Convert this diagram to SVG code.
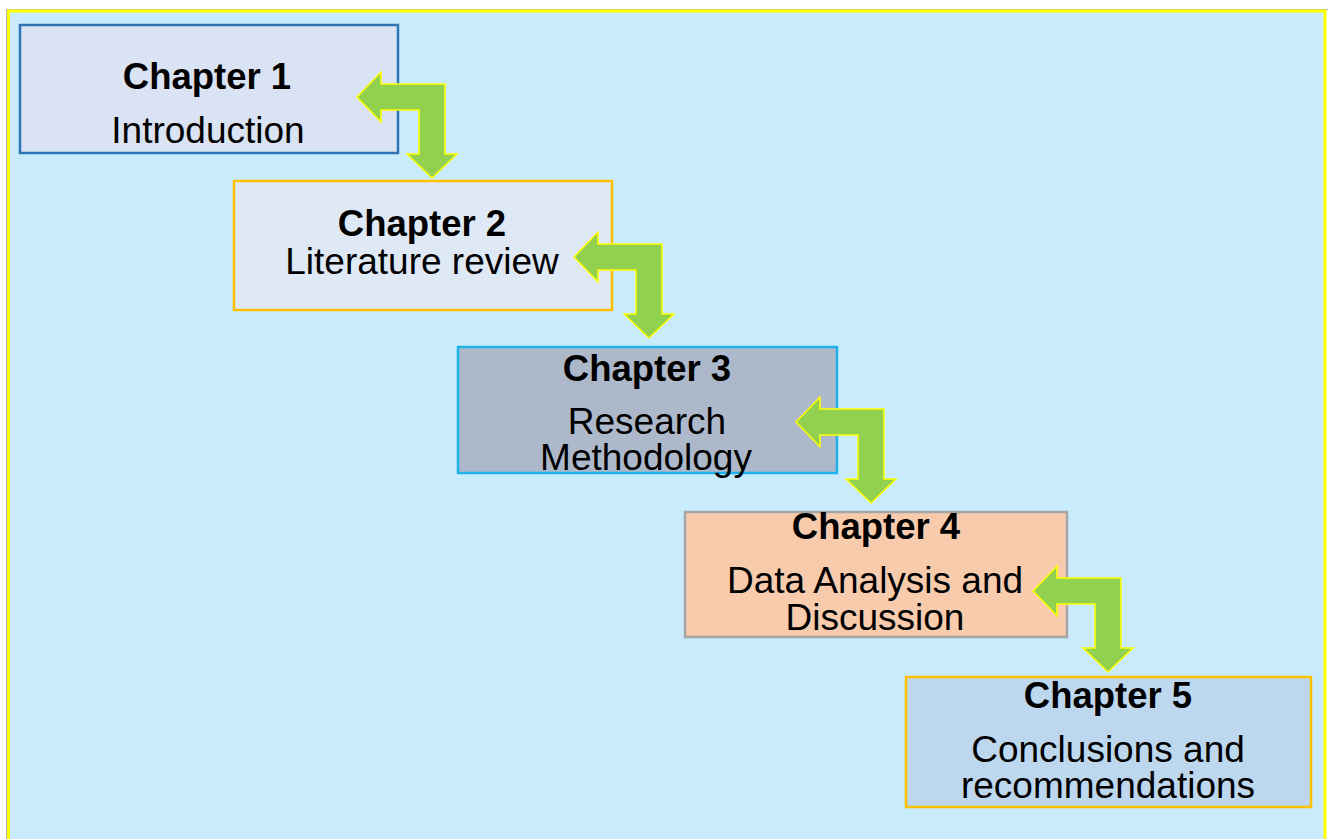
<svg xmlns="http://www.w3.org/2000/svg" width="1333" height="839" viewBox="0 0 1333 839">
  <defs>
    <style>
      .box { stroke-width: 2.5; }
      .title { font-family: "Liberation Sans", Arial, sans-serif; font-weight: bold; font-size: 36.5px; fill: #000; text-anchor: middle; }
      .label { font-family: "Liberation Sans", Arial, sans-serif; font-size: 37px; fill: #000; text-anchor: middle; }
      .bend { fill: #92d050; stroke: #ffff00; stroke-width: 1.5; stroke-linejoin: miter; }
    </style>
    <!-- bent arrow: points left into a box, then turns down to the next one -->
    <path id="bentArrow" d="M0,0 L24,-25 L24,-13 L88,-13 L88,57 L100,57 L75,81 L50,57 L62,57 L62,13 L24,13 L24,25 Z"/>
  </defs>

  <!-- page and frame -->
  <rect width="1333" height="839" fill="#ffffff"/>
  <polyline points="6.5,900 6.5,9.5 1328,9.5" fill="none" stroke="#b0b0b0" stroke-width="1"/>
  <rect x="8.5" y="11" width="1316.5" height="900" fill="#c8ecfc" stroke="#ffff00" stroke-width="3"/>

  <g id="chapter1">
    <rect class="box" x="20" y="25" width="378" height="128" fill="#dae3f3" stroke="#2e75b6"/>
    <text class="title" x="207" y="89">Chapter 1</text>
    <text class="label" x="208" y="143">Introduction</text>
  </g>

  <g id="chapter2">
    <rect class="box" x="234" y="181" width="378" height="129" fill="#dfe9f5" stroke="#ffc000"/>
    <text class="title" x="422" y="236">Chapter 2</text>
    <text class="label" x="422" y="274">Literature review</text>
  </g>

  <g id="chapter3">
    <rect class="box" x="458" y="347" width="379" height="126" fill="#adb9ca" stroke="#1fb2ea"/>
    <text class="title" x="647" y="381">Chapter 3</text>
    <text class="label" x="647" y="434">Research</text>
    <text class="label" x="646" y="470">Methodology</text>
  </g>

  <g id="chapter4">
    <rect class="box" x="685" y="512" width="382" height="125" fill="#f8cbad" stroke="#a5a5a5"/>
    <text class="title" x="876" y="539">Chapter 4</text>
    <text class="label" x="875" y="593">Data Analysis and</text>
    <text class="label" x="875" y="630">Discussion</text>
  </g>

  <g id="chapter5">
    <rect class="box" x="906" y="677" width="405" height="130" fill="#bdd7ee" stroke="#ffc000"/>
    <text class="title" x="1108" y="708">Chapter 5</text>
    <text class="label" x="1108" y="762">Conclusions and</text>
    <text class="label" x="1108" y="798">recommendations</text>
  </g>

  <g id="connectors">
    <use href="#bentArrow" class="bend" x="357" y="97"/>
    <use href="#bentArrow" class="bend" x="574" y="257"/>
    <use href="#bentArrow" class="bend" x="796" y="422"/>
    <use href="#bentArrow" class="bend" x="1033" y="591"/>
  </g>
</svg>
